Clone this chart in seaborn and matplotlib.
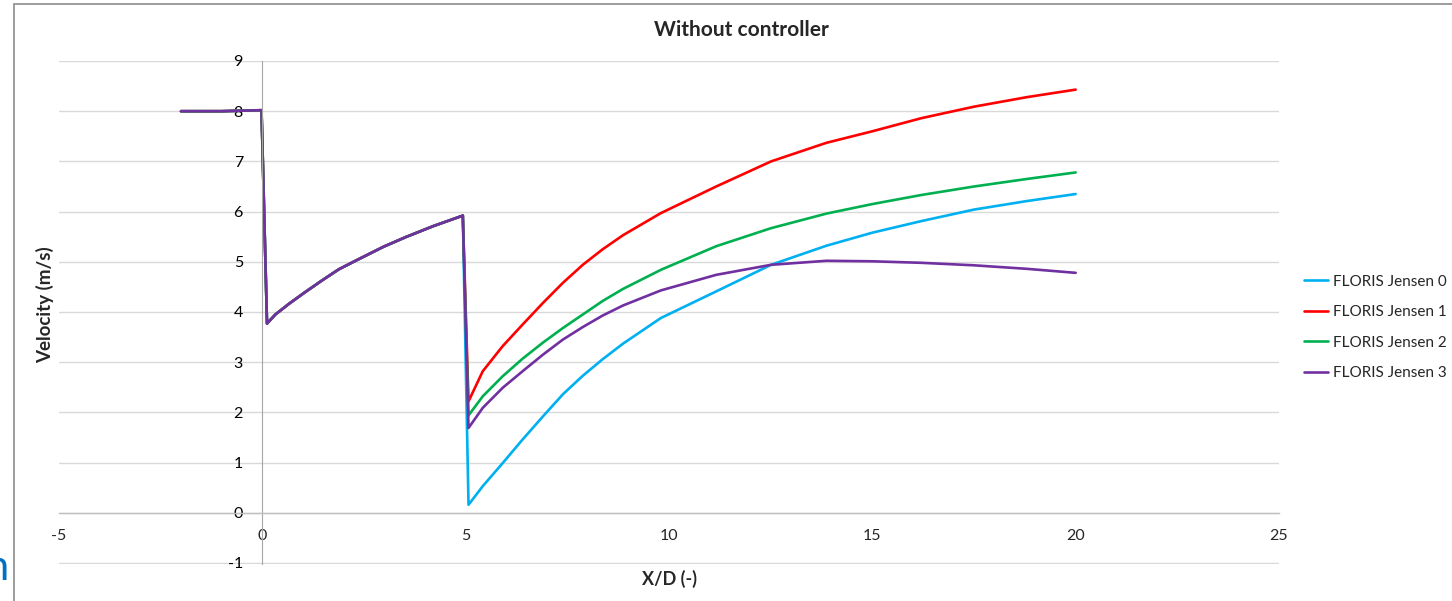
import matplotlib
matplotlib.use("Agg")
import matplotlib.pyplot as plt
from matplotlib.patches import Rectangle
import seaborn as sns
import pandas as pd

# shared part (upstream turbine wake), same for every model
x_common = [-2.0, -1.0, -0.02, 0.115, 0.32, 0.65, 1.06, 1.47, 1.88, 2.29, 2.98, 3.52, 4.2, 4.93]
v_common = [8.0, 8.0, 8.02, 3.77, 3.95, 4.16, 4.40, 4.63, 4.85, 5.02, 5.30, 5.49, 5.71, 5.92]

# after the second turbine
x_wake = [5.07, 5.42, 5.91, 6.40, 6.90, 7.39, 7.88, 8.37, 8.87, 9.8,
          11.16, 12.51, 13.87, 15.0, 16.2, 17.5, 18.8, 20.0]
v_jensen0 = [0.16, 0.53, 0.99, 1.46, 1.92, 2.36, 2.73, 3.06, 3.37, 3.88,
             4.41, 4.94, 5.32, 5.58, 5.81, 6.04, 6.21, 6.35]
v_jensen1 = [2.22, 2.82, 3.32, 3.75, 4.18, 4.58, 4.94, 5.25, 5.53, 5.97,
             6.5, 7.0, 7.37, 7.6, 7.86, 8.09, 8.28, 8.43]
v_jensen2 = [1.94, 2.32, 2.72, 3.07, 3.39, 3.68, 3.95, 4.22, 4.46, 4.84,
             5.31, 5.67, 5.96, 6.15, 6.33, 6.5, 6.65, 6.78]
v_jensen3 = [1.69, 2.09, 2.49, 2.82, 3.15, 3.45, 3.70, 3.93, 4.13, 4.43,
             4.74, 4.94, 5.02, 5.01, 4.98, 4.93, 4.86, 4.78]

names = ["FLORIS Jensen 0", "FLORIS Jensen 1", "FLORIS Jensen 2", "FLORIS Jensen 3"]
colors = ["#00B0F0", "#FF0000", "#00B050", "#7030A0"]

rows = []
for name, wake in zip(names, [v_jensen0, v_jensen1, v_jensen2, v_jensen3]):
    xs = x_common + x_wake
    vs = v_common + wake
    for x, v in zip(xs, vs):
        rows.append({"x": x, "v": v, "series": name})
df = pd.DataFrame(rows)

sns.set_style("white")
plt.rcParams["font.family"] = ["Lato", "DejaVu Sans"]
plt.rcParams["axes.unicode_minus"] = False

fig = plt.figure(figsize=(14.52, 6.01), dpi=100)
ax = fig.add_axes([59 / 1452, 1 - 564 / 601, (1279 - 59) / 1452, (564 - 61) / 601])

sns.lineplot(data=df, x="x", y="v", hue="series", hue_order=names,
             palette=colors, sort=False, estimator=None, units="series",
             linewidth=1.9, ax=ax)

ax.set_xlim(-5, 25)
ax.set_ylim(-1.02, 9)
ax.set_xticks(range(-5, 26, 5))
ax.set_yticks(range(-1, 10))
ax.yaxis.grid(True, color="#D9D9D9", linewidth=1.0)
ax.xaxis.grid(False)
ax.set_axisbelow(True)

for s in ["top", "right"]:
    ax.spines[s].set_visible(False)
ax.spines["left"].set_position(("data", 0))
ax.spines["bottom"].set_position(("data", 0))
ax.spines["left"].set_color("#A6A6A6")
ax.spines["left"].set_linewidth(0.8)
ax.spines["bottom"].set_color("#BFBFBF")
ax.spines["bottom"].set_linewidth(1.0)

ax.tick_params(axis="y", length=0, pad=14, labelsize=11.5, labelcolor="#000000")
ax.tick_params(axis="x", length=5, width=0.8, color="#BFBFBF", direction="out",
               pad=7, labelsize=11.5)

ax.set_xlabel("")
ax.set_ylabel("")
fig.text(669 / 1452, 1 - 579 / 601, "X/D (-)", ha="center", va="center",
         fontsize=13, fontweight="bold")
fig.text(45 / 1452, 1 - 305 / 601, "Velocity (m/s)", ha="center", va="center",
         rotation=90, fontsize=13.5, fontweight="bold")
fig.text(741 / 1452, 1 - 30 / 601, "Without controller", ha="center", va="center",
         fontsize=15, fontweight="bold")

handles, labels = ax.get_legend_handles_labels()
ax.get_legend().remove()
fig.legend(handles, labels, loc="upper left",
           bbox_to_anchor=(1290 / 1452, 1 - 261 / 601), frameon=False,
           fontsize=11, handlelength=1.6, handletextpad=0.3, labelspacing=1.08)

# chart area frame and cut-off text at the left edge
fig.patches.append(Rectangle((14 / 1452, -0.1), 1.2, 1.1 - 4 / 601,
                             transform=fig.transFigure, fill=False,
                             edgecolor="#8C8C8C", linewidth=1.2))
fig.text(8 / 1452, 1 - 568 / 601, "n", ha="right", va="center",
         fontsize=30, color="#0070C0")

fig.savefig("out.png", dpi=100)
